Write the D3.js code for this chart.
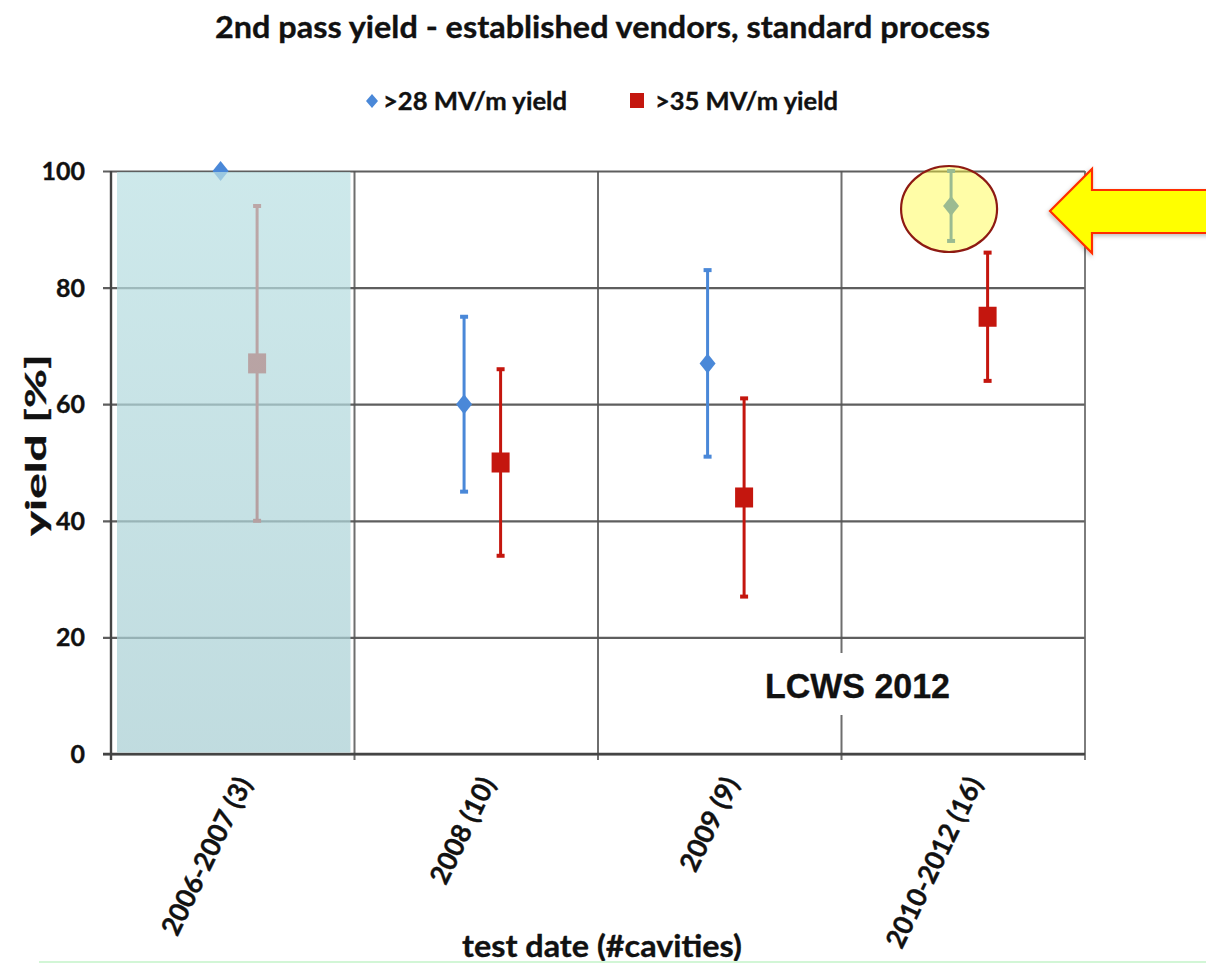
<!DOCTYPE html>
<html>
<head>
<meta charset="utf-8">
<script src="https://cdn.jsdelivr.net/npm/d3@7/dist/d3.min.js"></script>
<style>
  html, body { margin: 0; padding: 0; background: #ffffff; }
  svg { display: block; }
  text { font-family: "Lato", "Open Sans", sans-serif; font-weight: bold; fill: #111; stroke: #111; stroke-width: 0.35px; }
</style>
</head>
<body>
<svg id="chart" width="1206" height="963"></svg>
<script>
// Test periods (number of cavities tested in brackets)
const categories = ["2006-2007 (3)", "2008 (10)", "2009 (9)", "2010-2012 (16)"];

// >28 MV/m yield, with error bar limits
const yield28 = [100, 60, 67, 94];
const yield28Low = [100, 45, 51, 88];
const yield28High = [100, 75, 83, 100];

// >35 MV/m yield, with error bar limits
const yield35 = [67, 50, 44, 75];
const yield35Low = [40, 34, 27, 64];
const yield35High = [94, 66, 61, 86];

const yTicks = [0, 20, 40, 60, 80, 100];
const seriesNames = [">28 MV/m yield", ">35 MV/m yield"];
const titleText = "2nd pass yield - established vendors, standard process";
const yTitle = "yield [%]";
const xTitle = "test date (#cavities)";
const stampText = "LCWS 2012";

const BLUE = "#4a88d8";
const RED = "#c4160e";
const GRID = "#4d4d4d";

const svg = d3.select("#chart");

const plot = { left: 111, right: 1085, top: 171, bottom: 754 };

const x = d3.scaleBand().domain(categories).range([plot.left, plot.right]).padding(0);
const y = d3.scaleLinear().domain([0, 100]).range([plot.bottom, plot.top]);
const bw = x.bandwidth();
const xBlue = c => x(c) + bw * 0.45;
const xRed = c => x(c) + bw * 0.6;

// Title
svg.append("text")
  .attr("x", 215).attr("y", 38)
  .attr("font-size", 30)
  .attr("textLength", 775).attr("lengthAdjust", "spacingAndGlyphs")
  .text(titleText);

// Legend
const legend = svg.append("g");
legend.append("path")
  .attr("d", "M0,-7L6,0L0,7L-6,0Z")
  .attr("transform", "translate(372,101)")
  .attr("fill", BLUE);
legend.append("text")
  .attr("x", 383).attr("y", 110).attr("font-size", 24)
  .attr("textLength", 184).attr("lengthAdjust", "spacingAndGlyphs")
  .text(seriesNames[0]);
legend.append("rect")
  .attr("x", 630).attr("y", 93).attr("width", 14).attr("height", 15)
  .attr("fill", RED);
legend.append("text")
  .attr("x", 655).attr("y", 110).attr("font-size", 24)
  .attr("textLength", 183).attr("lengthAdjust", "spacingAndGlyphs")
  .text(seriesNames[1]);

// Horizontal gridlines with left tick marks
const yGrid = svg.append("g")
  .attr("transform", `translate(${plot.left},0)`)
  .call(d3.axisLeft(y).tickValues(yTicks).tickSize(-(plot.right - plot.left)).tickFormat(""));
yGrid.select(".domain").remove();
yGrid.selectAll(".tick line")
  .attr("x1", -8)
  .attr("stroke", GRID).attr("stroke-width", 2.2).attr("stroke-opacity", 0.9);

// Vertical gridlines at category boundaries, extended below the axis as ticks
const boundaries = categories.slice(1).map(c => x(c)).concat([plot.right]);
svg.append("g").selectAll("line")
  .data(boundaries)
  .join("line")
  .attr("x1", d => d).attr("x2", d => d)
  .attr("y1", plot.top).attr("y2", plot.bottom + 6)
  .attr("stroke", (d, i) => i === boundaries.length - 1 ? "#666" : "#555")
  .attr("stroke-width", 2).attr("stroke-opacity", 0.85);

// Axis lines
svg.append("line")
  .attr("x1", plot.left).attr("x2", plot.left)
  .attr("y1", plot.top).attr("y2", plot.bottom + 6)
  .attr("stroke", "#444").attr("stroke-width", 2.4);
svg.append("line")
  .attr("x1", plot.left - 8).attr("x2", plot.right)
  .attr("y1", plot.bottom).attr("y2", plot.bottom)
  .attr("stroke", "#444").attr("stroke-width", 2.6);

// Y tick labels
svg.append("g").selectAll("text")
  .data(yTicks)
  .join("text")
  .attr("x", 85).attr("y", d => y(d) + 9)
  .attr("text-anchor", "end")
  .attr("font-size", 25)
  .text(d => d);

// Error bars and markers
function drawSeries(vals, lows, highs, xpos, color, shape) {
  const g = svg.append("g");
  g.selectAll("line.bar")
    .data(categories)
    .join("line").attr("class", "bar")
    .attr("x1", (c) => xpos(c)).attr("x2", (c) => xpos(c))
    .attr("y1", (c, i) => y(lows[i])).attr("y2", (c, i) => y(highs[i]))
    .attr("stroke", color).attr("stroke-width", 3);
  ["low", "high"].forEach(k => {
    const arr = k === "low" ? lows : highs;
    g.selectAll("line.cap-" + k)
      .data(categories)
      .join("line").attr("class", "cap-" + k)
      .attr("x1", c => xpos(c) - 4).attr("x2", c => xpos(c) + 4)
      .attr("y1", (c, i) => y(arr[i])).attr("y2", (c, i) => y(arr[i]))
      .attr("stroke", color).attr("stroke-width", 4);
  });
  if (shape === "diamond") {
    g.selectAll("path.marker")
      .data(categories)
      .join("path").attr("class", "marker")
      .attr("d", "M0,-10L8,0L0,10L-8,0Z")
      .attr("transform", (c, i) => `translate(${xpos(c)},${y(vals[i])})`)
      .attr("fill", color);
  } else {
    g.selectAll("rect.marker")
      .data(categories)
      .join("rect").attr("class", "marker")
      .attr("x", c => xpos(c) - 9).attr("y", (c, i) => y(vals[i]) - 10)
      .attr("width", 18).attr("height", 20)
      .attr("fill", color);
  }
}
drawSeries(yield28, yield28Low, yield28High, xBlue, BLUE, "diamond");
drawSeries(yield35, yield35Low, yield35High, xRed, RED, "square");

// Translucent shading over the earliest test period
const defs = svg.append("defs");
const grad = defs.append("linearGradient").attr("id", "shade").attr("x1", 0).attr("x2", 0).attr("y1", 0).attr("y2", 1);
grad.append("stop").attr("offset", 0).attr("stop-color", "rgb(186,224,227)");
grad.append("stop").attr("offset", 1).attr("stop-color", "rgb(168,206,211)");
const c0 = categories[0];
svg.append("rect")
  .attr("x", x(c0) + 6).attr("y", y(100) + 1)
  .attr("width", bw - 10).attr("height", y(0) - y(100) - 2.5)
  .attr("fill", "url(#shade)").attr("fill-opacity", 0.72);

// Stamp with white backing
svg.append("rect")
  .attr("x", 755).attr("y", 653).attr("width", 205).attr("height", 62)
  .attr("fill", "#fff");
svg.append("text")
  .attr("x", 765).attr("y", 698)
  .style("font-family", "'Liberation Sans', Arial, sans-serif")
  .attr("font-size", 35)
  .attr("textLength", 185).attr("lengthAdjust", "spacingAndGlyphs")
  .text(stampText);

// Highlight around the latest >28 MV/m point
const cLast = categories[categories.length - 1];
svg.append("ellipse")
  .attr("cx", xBlue(cLast) - 2).attr("cy", y(yield28[3]) + 3)
  .attr("rx", 48).attr("ry", 43)
  .attr("fill", "rgb(255,250,60)").attr("fill-opacity", 0.45)
  .attr("stroke", "#8e1a12").attr("stroke-width", 2.2);

// Pointer arrow
const shadow = defs.append("filter").attr("id", "shadow").attr("x", "-20%").attr("y", "-20%").attr("width", "140%").attr("height", "140%");
shadow.append("feDropShadow").attr("dx", -1).attr("dy", 2).attr("stdDeviation", 2).attr("flood-color", "#000").attr("flood-opacity", 0.25);
svg.append("polygon")
  .attr("points", [[1050, 211], [1092, 169], [1092, 190], [1215, 190], [1215, 233], [1092, 233], [1092, 253]].map(p => p.join(",")).join(" "))
  .attr("fill", "#ffff00").attr("stroke", "#ff2d00").attr("stroke-width", 2.2)
  .attr("stroke-linejoin", "miter")
  .attr("filter", "url(#shadow)");

// Rotated category labels
const labelLen = { "2006-2007 (3)": 172, "2008 (10)": 115, "2009 (9)": 101, "2010-2012 (16)": 186 };
svg.append("g").selectAll("text")
  .data(categories)
  .join("text")
  .attr("transform", c => `translate(${x(c) + bw / 2 + 20},${783}) rotate(-64)`)
  .attr("text-anchor", "end")
  .attr("font-size", 27)
  .attr("textLength", c => labelLen[c]).attr("lengthAdjust", "spacingAndGlyphs")
  .text(c => c);

// Axis titles
svg.append("text")
  .attr("transform", "translate(46,445) rotate(-90)")
  .attr("text-anchor", "middle")
  .attr("font-size", 29)
  .attr("textLength", 182).attr("lengthAdjust", "spacingAndGlyphs")
  .text(yTitle);
svg.append("text")
  .attr("x", 602).attr("y", 957)
  .attr("text-anchor", "middle")
  .attr("font-size", 31)
  .attr("textLength", 280).attr("lengthAdjust", "spacingAndGlyphs")
  .text(xTitle);

// Thin strip along the bottom edge
svg.append("rect")
  .attr("x", 39).attr("y", 961).attr("width", 1206 - 39).attr("height", 2)
  .attr("fill", "#d2f6d6");
</script>
</body>
</html>
